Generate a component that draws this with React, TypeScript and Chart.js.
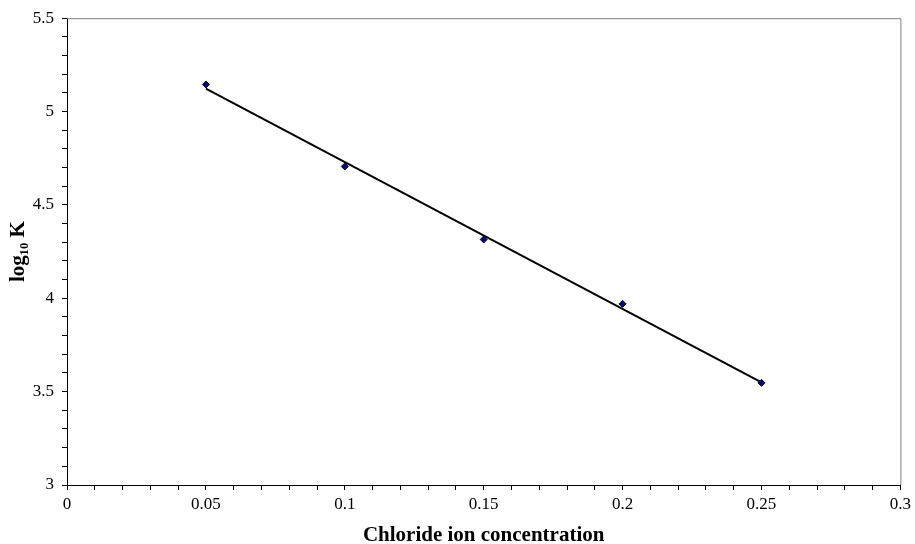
import React, { useEffect, useRef } from "react";
import { Chart, registerables } from "chart.js";

Chart.register(...registerables);

const concentration = [0.05, 0.1, 0.15, 0.2, 0.25];
const logK = [5.145, 4.706, 4.315, 3.97, 3.547];
const trendX = [0.05, 0.25];
const trendY = [5.123, 3.55];
const xMajorLabels = ["0", "0.05", "0.1", "0.15", "0.2", "0.25", "0.3"];
const yMajorLabels = ["3", "3.5", "4", "4.5", "5", "5.5"];

const isMultiple = (v: number, step: number) =>
  Math.abs(v / step - Math.round(v / step)) < 1e-6;

const frame = {
  id: "frame",
  beforeDatasetsDraw(chart: any) {
    const { ctx, chartArea } = chart;
    ctx.save();
    ctx.strokeStyle = "#808080";
    ctx.lineWidth = 1;
    ctx.beginPath();
    ctx.moveTo(chartArea.left, chartArea.top + 0.5);
    ctx.lineTo(chartArea.right + 0.5, chartArea.top + 0.5);
    ctx.lineTo(chartArea.right + 0.5, chartArea.bottom);
    ctx.stroke();
    ctx.restore();
  },
};

export default function App() {
  const ref = useRef<HTMLCanvasElement>(null);
  useEffect(() => {
    if (!ref.current) return;
    const chart = new Chart(ref.current, {
      type: "scatter",
      data: {
        datasets: [
          {
            label: "log10 K",
            data: concentration.map((x, i) => ({ x, y: logK[i] })),
            pointStyle: "rectRot",
            pointRadius: 3.5,
            backgroundColor: "#0a0a70",
            borderColor: "#000033",
            borderWidth: 1,
            showLine: false,
          },
          {
            label: "Linear",
            data: trendX.map((x, i) => ({ x, y: trendY[i] })),
            showLine: true,
            borderColor: "#000000",
            borderWidth: 2,
            pointRadius: 0,
            fill: false,
          },
        ],
      },
      options: {
        animation: false,
        responsive: false,
        maintainAspectRatio: false,
        layout: { padding: { left: 0, right: 14, top: 16, bottom: 0 } },
        plugins: {
          legend: { display: false },
          tooltip: { enabled: false },
        },
        scales: {
          x: {
            type: "linear",
            min: 0,
            max: 0.3,
            afterFit: (s: any) => {
              s.height = 59;
            },
            ticks: {
              stepSize: 0.01,
              autoSkip: false,
              maxRotation: 0,
              padding: 4,
              color: "#000",
              font: { family: "'Liberation Serif', serif", size: 17 },
              callback: (v: any) => {
                const n = Number(v);
                if (!isMultiple(n, 0.05)) return "";
                return xMajorLabels[Math.round(n / 0.05)];
              },
            },
            grid: {
              drawOnChartArea: false,
              drawTicks: true,
              tickLength: 5,
              tickColor: "#000",
            },
            border: { display: true, color: "#000", width: 1 },
            title: {
              display: true,
              text: "Chloride ion concentration",
              color: "#000",
              font: { family: "'Liberation Serif', serif", size: 21, weight: "bold", lineHeight: 0.8 },
              padding: { top: 0, bottom: 0 },
            },
          },
          y: {
            type: "linear",
            min: 3,
            max: 5.5,
            afterFit: (s: any) => {
              s.width = 67;
            },
            ticks: {
              stepSize: 0.1,
              autoSkip: false,
              padding: 8,
              color: "#000",
              font: { family: "'Liberation Serif', serif", size: 17 },
              callback: (v: any) => {
                const n = Number(v);
                if (!isMultiple(n - 3, 0.5)) return "";
                return yMajorLabels[Math.round((n - 3) / 0.5)];
              },
            },
            grid: {
              drawOnChartArea: false,
              drawTicks: true,
              tickLength: 5,
              tickColor: "#000",
            },
            border: { display: true, color: "#000", width: 1 },
            title: {
              display: true,
              text: "log₁₀ K",
              color: "#000",
              font: { family: "'Liberation Serif', serif", size: 21, weight: "bold", lineHeight: 1 },
              padding: { top: 8, bottom: 0 },
            },
          },
        },
      },
      plugins: [frame],
    });
    return () => chart.destroy();
  }, []);
  return (
    <div style={{ position: "fixed", left: 0, top: 0, width: 915, height: 544, background: "#fff" }}>
      <canvas ref={ref} width={915} height={544} style={{ display: "block" }} />
    </div>
  );
}
